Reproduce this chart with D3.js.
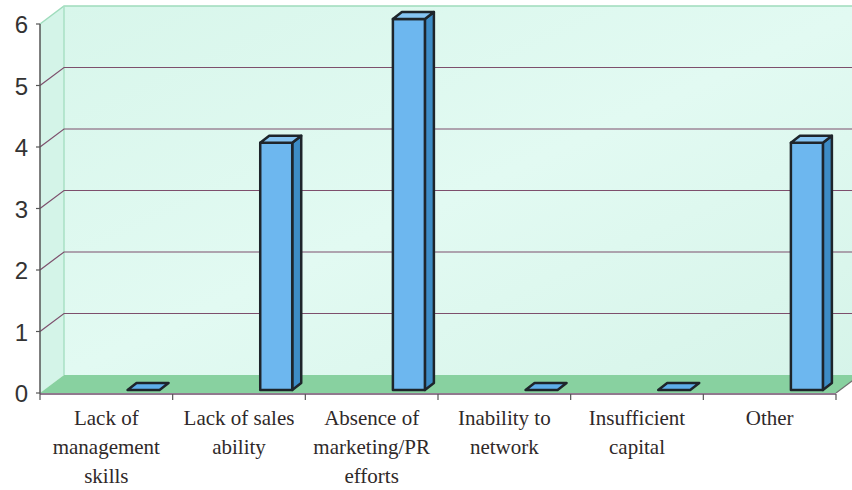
<!DOCTYPE html>
<html>
<head>
<meta charset="utf-8">
<script src="https://cdn.jsdelivr.net/npm/d3@7"></script>
<style>
  body { margin: 0; background: #fff; }
  svg { display: block; }
</style>
</head>
<body>
<div id="chart"></div>
<script>
// chart data
const categories = [
    ["Lack of", "management", "skills"],
    ["Lack of sales", "ability"],
    ["Absence of", "marketing/PR", "efforts"],
    ["Inability to", "network"],
    ["Insufficient", "capital"],
    ["Other"]
];
const values = [0, 4, 6, 0, 0, 4];
const yTicks = [0, 1, 2, 3, 4, 5, 6];

const svgWidth = 852, svgHeight = 490;

// front plane of the plot and the depth of the 3d box
const front = { left: 40, right: 836, top: 24, bottom: 393 };
const depth = { dx: 24, dy: -18 };
// bars sit a little behind the front plane
const barDepth = { dx: 9, dy: -7 };
const barWidth = 32;

const svg = d3.select("#chart")
    .append("svg")
    .attr("width", svgWidth)
    .attr("height", svgHeight);

const keys = categories.map((c, i) => "c" + i);

const xScale = d3.scaleBand()
    .domain(keys)
    .range([front.left, front.right])
    .padding(0);

const yScale = d3.scaleLinear()
    .domain([0, 6])
    .range([front.bottom, front.top]);

// scale for the bars (slightly behind the front plane)
const yBar = d3.scaleLinear()
    .domain([0, 6])
    .range([front.bottom - 3, front.top - 5]);

const pts = p => p.map(d => d.join(",")).join(" ");

// back wall
const defs = svg.append("defs");
const grad = defs.append("linearGradient")
    .attr("id", "wall")
    .attr("x1", 0).attr("y1", 0).attr("x2", 1).attr("y2", 1);
grad.append("stop").attr("offset", "0%").attr("stop-color", "#d8f6eb");
grad.append("stop").attr("offset", "50%").attr("stop-color", "#e2faf2");
grad.append("stop").attr("offset", "100%").attr("stop-color", "#d6f4e9");

const backTop = yScale(6) + depth.dy;
const backBottom = yScale(0) + depth.dy;
svg.append("rect")
    .attr("x", front.left + depth.dx)
    .attr("y", backTop)
    .attr("width", svgWidth - front.left - depth.dx + 20)
    .attr("height", backBottom - backTop)
    .attr("fill", "url(#wall)");

// left side wall
svg.append("polygon")
    .attr("points", pts([
        [front.left, yScale(6)],
        [front.left + depth.dx, backTop],
        [front.left + depth.dx, backBottom],
        [front.left, yScale(0)]
    ]))
    .attr("fill", "#d4f4e8");

// wall edges
svg.append("polyline")
    .attr("points", pts([
        [front.left, yScale(6)],
        [front.left + depth.dx, backTop],
        [svgWidth + 10, backTop]
    ]))
    .attr("fill", "none")
    .attr("stroke", "#9fdcbc")
    .attr("stroke-width", 1.5);
svg.append("line")
    .attr("x1", front.left + depth.dx).attr("x2", front.left + depth.dx)
    .attr("y1", backTop).attr("y2", backBottom)
    .attr("stroke", "#a8e0c4")
    .attr("stroke-width", 1.5);

// gridlines on side wall and back wall
const grid = svg.append("g");
yTicks.filter(t => t > 0 && t < 6).forEach(t => {
    grid.append("polyline")
        .attr("points", pts([
            [front.left, yScale(t)],
            [front.left + depth.dx, yScale(t) + depth.dy],
            [svgWidth + 10, yScale(t) + depth.dy]
        ]))
        .attr("fill", "none")
        .attr("stroke", "#7d4f6c")
        .attr("stroke-width", 1.2);
});

// floor
svg.append("polygon")
    .attr("points", pts([
        [front.left, yScale(0)],
        [front.right, yScale(0)],
        [front.right + depth.dx, backBottom],
        [front.left + depth.dx, backBottom]
    ]))
    .attr("fill", "#88d1a0");
svg.append("line")
    .attr("x1", front.right).attr("y1", yScale(0))
    .attr("x2", front.right + depth.dx).attr("y2", backBottom)
    .attr("stroke", "#6f6f6f")
    .attr("stroke-width", 1.2);

// bars
const bars = svg.append("g")
    .attr("stroke", "#1e252b")
    .attr("stroke-width", 2.5)
    .attr("stroke-linejoin", "round");

values.forEach((v, i) => {
    const x0 = xScale(keys[i]) + xScale.bandwidth() * 0.66;
    const x1 = x0 + barWidth;
    const yb = yBar(0);
    const yt = yBar(v);
    const dx = barDepth.dx, dy = barDepth.dy;
    if (v > 0) {
        bars.append("polygon")
            .attr("points", pts([[x1, yb], [x1 + dx, yb + dy], [x1 + dx, yt + dy], [x1, yt]]))
            .attr("fill", "#3d8cc6");
        bars.append("rect")
            .attr("x", x0).attr("y", yt)
            .attr("width", barWidth).attr("height", yb - yt)
            .attr("fill", "#6db7ef");
    }
    bars.append("polygon")
        .attr("points", pts([[x0, yt], [x0 + dx, yt + dy], [x1 + dx, yt + dy], [x1, yt]]))
        .attr("fill", v > 0 ? "#86c4f2" : "#5eaeea");
});

// y axis
svg.append("line")
    .attr("x1", front.left).attr("x2", front.left)
    .attr("y1", yScale(6)).attr("y2", yScale(0) + 1)
    .attr("stroke", "#555")
    .attr("stroke-width", 1.5);

const yAxis = svg.append("g");
yTicks.forEach(t => {
    yAxis.append("line")
        .attr("x1", front.left - 4).attr("x2", front.left)
        .attr("y1", yScale(t)).attr("y2", yScale(t))
        .attr("stroke", "#555")
        .attr("stroke-width", 1.2);
    yAxis.append("text")
        .attr("x", front.left - 12)
        .attr("y", yScale(t) + 9)
        .attr("text-anchor", "end")
        .attr("font-family", "Liberation Sans, Arial, sans-serif")
        .attr("font-size", 24)
        .attr("fill", "#333")
        .text(t);
});

// x axis
svg.append("line")
    .attr("x1", front.left).attr("x2", front.right)
    .attr("y1", yScale(0) + 1).attr("y2", yScale(0) + 1)
    .attr("stroke", "#6b4c68")
    .attr("stroke-width", 1.5);

const bounds = keys.map(k => xScale(k)).concat([front.right]);
bounds.forEach(b => {
    svg.append("line")
        .attr("x1", b).attr("x2", b)
        .attr("y1", yScale(0) + 1).attr("y2", yScale(0) + 7)
        .attr("stroke", "#555")
        .attr("stroke-width", 1.2);
});

// category labels
const labels = svg.append("g")
    .attr("font-family", "Liberation Serif, Times New Roman, serif")
    .attr("font-size", 21)
    .attr("fill", "#2f2929")
    .attr("text-anchor", "middle");

categories.forEach((lines, i) => {
    const cx = xScale(keys[i]) + xScale.bandwidth() / 2;
    lines.forEach((s, j) => {
        labels.append("text")
            .attr("x", cx)
            .attr("y", 425 + j * 29)
            .text(s);
    });
});
</script>
</body>
</html>
